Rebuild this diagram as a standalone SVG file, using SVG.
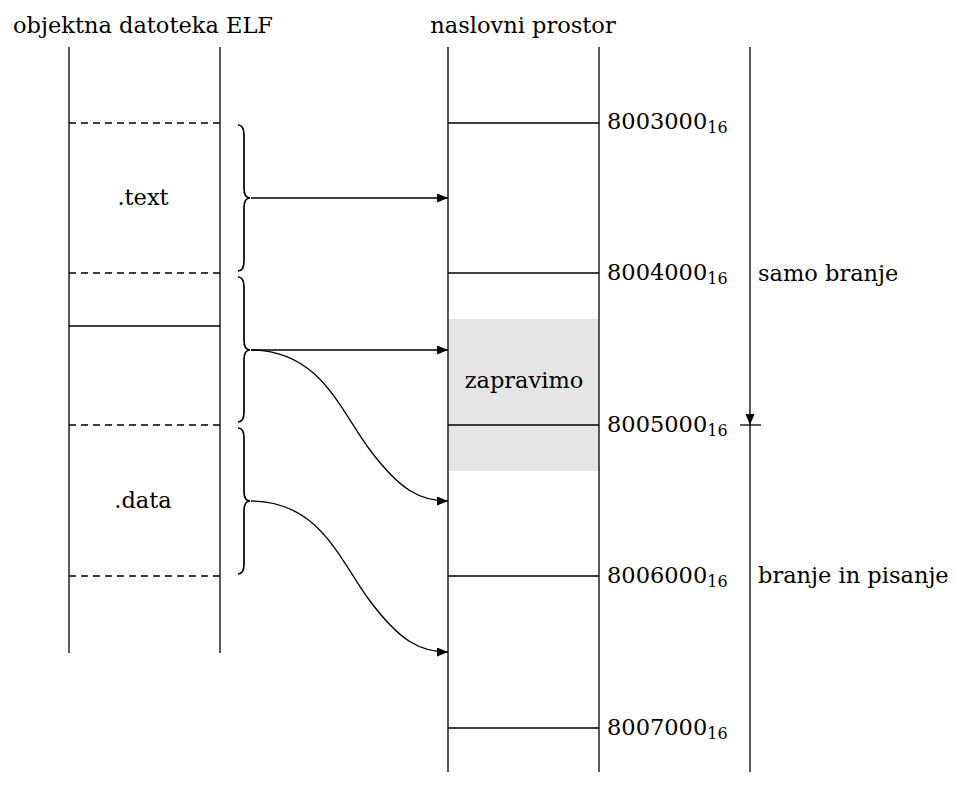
<svg xmlns="http://www.w3.org/2000/svg" width="955" height="799" viewBox="0 0 955 799">
  <style>
    .ln { stroke: #000; stroke-width: 1.3; fill: none; }
    .dash { stroke: #000; stroke-width: 1.3; stroke-dasharray: 7 5; fill: none; }
    .brace { stroke: #000; stroke-width: 1.7; fill: none; }
    .conn { stroke: #000; stroke-width: 1.3; fill: none; marker-end: url(#ah); }
    text { font-family: "DejaVu Serif", "Liberation Serif", serif; font-size: 22.5px; fill: #000; }
    .mid { text-anchor: middle; }
    .sub { font-size: 16px; }
  </style>
  <defs>
    <marker id="ah" viewBox="0 0 11 9" refX="11" refY="4.5" markerWidth="11" markerHeight="9" markerUnits="userSpaceOnUse" orient="auto">
      <path d="M0,0 L11,4.5 L0,9 Z" fill="#000"/>
    </marker>
  </defs>

  <rect x="448" y="319" width="151" height="152" fill="#e5e5e5"/>

  <!-- ELF object file column -->
  <g id="elf">
    <text class="mid" x="143" y="33">objektna datoteka ELF</text>
    <line class="ln" x1="69" y1="47" x2="69" y2="653"/>
    <line class="ln" x1="220" y1="47" x2="220" y2="653"/>
    <line class="dash" x1="69" y1="123" x2="220" y2="123"/>
    <line class="dash" x1="69" y1="273" x2="220" y2="273"/>
    <line class="ln" x1="69" y1="326" x2="220" y2="326"/>
    <line class="dash" x1="69" y1="425" x2="220" y2="425"/>
    <line class="dash" x1="69" y1="576" x2="220" y2="576"/>
    <text class="mid" x="143" y="205">.text</text>
    <text class="mid" x="143" y="508">.data</text>
  </g>

  <!-- braces grouping the file ranges -->
  <g id="braces">
    <path class="brace" d="M238,125 Q244,125 244,135 L244,188 Q244,198 250,198 Q244,198 244,208 L244,261 Q244,271 238,271"/>
    <path class="brace" d="M238,277 Q244,277 244,287 L244,340 Q244,350 250,350 Q244,350 244,360 L244,412 Q244,422 238,422"/>
    <path class="brace" d="M238,428 Q244,428 244,438 L244,491 Q244,501 250,501 Q244,501 244,511 L244,564 Q244,574 238,574"/>
  </g>

  <!-- address space column -->
  <g id="space">
    <text class="mid" x="523" y="33">naslovni prostor</text>
    <line class="ln" x1="448" y1="47" x2="448" y2="772"/>
    <line class="ln" x1="599" y1="47" x2="599" y2="772"/>
    <line class="ln" x1="448" y1="123" x2="599" y2="123"/>
    <line class="ln" x1="448" y1="273" x2="599" y2="273"/>
    <line class="ln" x1="448" y1="425" x2="599" y2="425"/>
    <line class="ln" x1="448" y1="576" x2="599" y2="576"/>
    <line class="ln" x1="448" y1="728" x2="599" y2="728"/>
    <text class="mid" x="524" y="388">zapravimo</text>
  </g>

  <!-- addresses -->
  <g id="addresses">
    <text x="607" y="129">8003000<tspan class="sub" dy="4">16</tspan></text>
    <text x="607" y="280">8004000<tspan class="sub" dy="4">16</tspan></text>
    <text x="607" y="432">8005000<tspan class="sub" dy="4">16</tspan></text>
    <text x="607" y="583">8006000<tspan class="sub" dy="4">16</tspan></text>
    <text x="607" y="735">8007000<tspan class="sub" dy="4">16</tspan></text>
  </g>

  <!-- access rights axis -->
  <g id="access">
    <line class="ln" x1="750" y1="47" x2="750" y2="772"/>
    <path d="M745.5,414 L754.5,414 L750,425 Z" fill="#000"/>
    <line class="ln" x1="740" y1="425" x2="761" y2="425"/>
    <text x="758" y="281">samo branje</text>
    <text x="758" y="583">branje in pisanje</text>
  </g>

  <!-- mappings -->
  <g id="connectors">
    <path class="conn" d="M251,198 L448,198"/>
    <path class="conn" d="M251,350 L448,350"/>
    <path class="conn" d="M251,350 C320,350 340,410 370,450 C400,490 420,501 448,501"/>
    <path class="conn" d="M251,501 C320,501 340,561 370,601 C400,641 420,652 448,652"/>
  </g>
</svg>
